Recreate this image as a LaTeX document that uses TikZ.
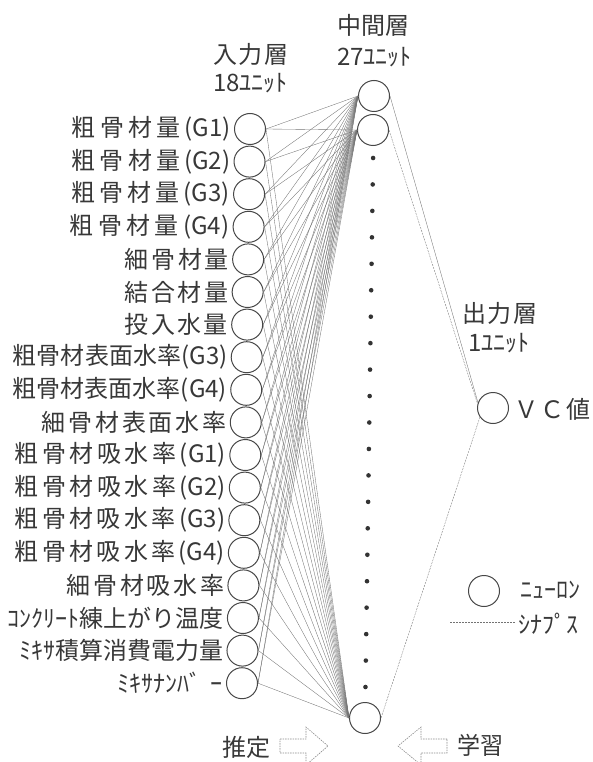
\documentclass[tikz,border=0pt]{standalone}
\usepackage{fontspec}
\usepackage{graphicx}
\newfontfamily\jp{Noto Sans CJK JP}
\newcommand\gp{\hfil}
\newsavebox\labbox
\newlength\labw
\newcommand\lab[2]{\setlength\labw{#1}\sbox\labbox{#2}\ifdim\wd\labbox>\labw\resizebox{\labw}{\height}{#2}\else\makebox[\labw][s]{#2}\fi}
\begin{document}
\begin{tikzpicture}[x=1pt,y=-1pt,
  neuron/.style={circle,draw=black!72,line width=1pt,minimum size=31pt,inner sep=0pt},
  txt/.style={font=\jp\fontsize{24}{24}\selectfont,text=black!78,inner sep=0pt},
  syn/.style={draw=black!55,line width=0.35pt},
  hollow/.style={draw=black!45,line width=0.6pt,dash pattern=on 1.5pt off 1pt}]
\useasboundingbox (0,0) rectangle (592,762);
\clip (0,0) rectangle (592,762);

% headers
\node[txt] (h1) at (250.5,54) {\lab{75pt}{入\gp 力\gp 層}};
\node[txt] (h1u) at (250.5,83) {\lab{75pt}{18ﾕﾆｯﾄ}};
\node[txt] (h2) at (373.5,25) {\lab{73pt}{中\gp 間\gp 層}};
\node[txt] (h2u) at (374.5,57) {\lab{75pt}{27ﾕﾆｯﾄ}};
\node[txt] (h3) at (499.5,313) {\lab{75pt}{出\gp 力\gp 層}};
\node[txt] (h3u) at (499,343) {\lab{62pt}{1ﾕﾆｯﾄ}};

% input layer
\foreach \i/\tx/\l in {
  1/粗\gp 骨\gp 材\gp 量\gp (G1)/72,
  2/粗\gp 骨\gp 材\gp 量\gp (G2)/72,
  3/粗\gp 骨\gp 材\gp 量\gp (G3)/72,
  4/粗\gp 骨\gp 材\gp 量\gp (G4)/70,
  5/細\gp 骨\gp 材\gp 量/125,
  6/結\gp 合\gp 材\gp 量/125,
  7/投\gp 入\gp 水\gp 量/125,
  8/粗\gp 骨\gp 材\gp 表\gp 面\gp 水\gp 率\gp (G3)/13,
  9/粗\gp 骨\gp 材\gp 表\gp 面\gp 水\gp 率\gp (G4)/13,
  10/細\gp 骨\gp 材\gp 表\gp 面\gp 水\gp 率/42,
  11/粗\gp 骨\gp 材\gp 吸\gp 水\gp 率\gp (G1)/15,
  12/粗\gp 骨\gp 材\gp 吸\gp 水\gp 率\gp (G2)/15,
  13/粗\gp 骨\gp 材\gp 吸\gp 水\gp 率\gp (G3)/15,
  14/粗\gp 骨\gp 材\gp 吸\gp 水\gp 率\gp (G4)/15,
  15/細\gp 骨\gp 材\gp 吸\gp 水\gp 率/67,
  16/ｺﾝｸﾘｰﾄ練\gp 上\gp が\gp り\gp 温\gp 度/8,
  17/ﾐｷｻ\gp 積\gp 算\gp 消\gp 費\gp 電\gp 力\gp 量/20,
  18/ﾐｷｻﾅﾝﾊﾞ\gp ｰ/118} {
  \pgfmathsetmacro\yy{129+32.6*(\i-1)}
  \pgfmathsetmacro\xx{250-8*(\i-1)/17}
  \pgfmathsetmacro\ww{\xx-19-\l}
  \node[neuron] (in\i) at (\xx,\yy) {};
  \node[txt,anchor=east] (lab\i) at (\xx-19,\yy) {\lab{\ww pt}{\tx}};
}

% hidden layer
\node[neuron] (m1) at (374,96) {};
\node[neuron] (m2) at (373,130) {};
\node[neuron] (m3) at (365,718) {};
\foreach \k in {0,...,20} {
  \pgfmathsetmacro\dy{158+\k*26.45}
  \pgfmathsetmacro\dx{374-9*(\dy-96)/622}
  \fill[black!80] (\dx,\dy) circle (2.3pt);
}

% output layer
\node[neuron] (out) at (493,408) {};
\node[txt,anchor=west] (vc) at (514,409) {\lab{76pt}{Ｖ\gp Ｃ\gp 値}};

% synapses
\foreach \i in {1,...,18} {
  \draw[syn] (in\i.east) -- (m1.west);
  \draw[syn] (in\i.east) -- (m2.west);
  \draw[syn] (in\i.east) -- (m3.west);
}
\draw[syn] (m1.east) -- (out.160);
\draw[syn,dash pattern=on 2pt off 1pt] (m2.east) -- (out.165);
\draw[syn,dash pattern=on 2pt off 1pt] (m3.east) -- (out.215);

% legend
\node[neuron] (lg) at (484,591) {};
\node[txt,anchor=west] (lgt) at (520,590) {\lab{63pt}{ﾆｭｰﾛﾝ}};
\coordinate (s1) at (450,622);
\coordinate (s2) at (515,622);
\draw[syn,dash pattern=on 2pt off 1pt] (s1) -- (s2);
\node[txt,anchor=west] (lgs) at (518,624) {\lab{65pt}{ｼﾅﾌﾟｽ}};

% bottom
\node[txt] (est) at (246,747) {\lab{48pt}{推\gp 定}};
\node[txt] (lrn) at (480,745) {\lab{46pt}{学\gp 習}};
\draw[hollow] (280,739) -- (306,739) -- (306,727) -- (328,746) -- (306,765) -- (306,753) -- (280,753) -- cycle;
\draw[hollow] (447,739) -- (421,739) -- (421,727) -- (398,746) -- (421,765) -- (421,753) -- (447,753) -- cycle;
\end{tikzpicture}
\end{document}
